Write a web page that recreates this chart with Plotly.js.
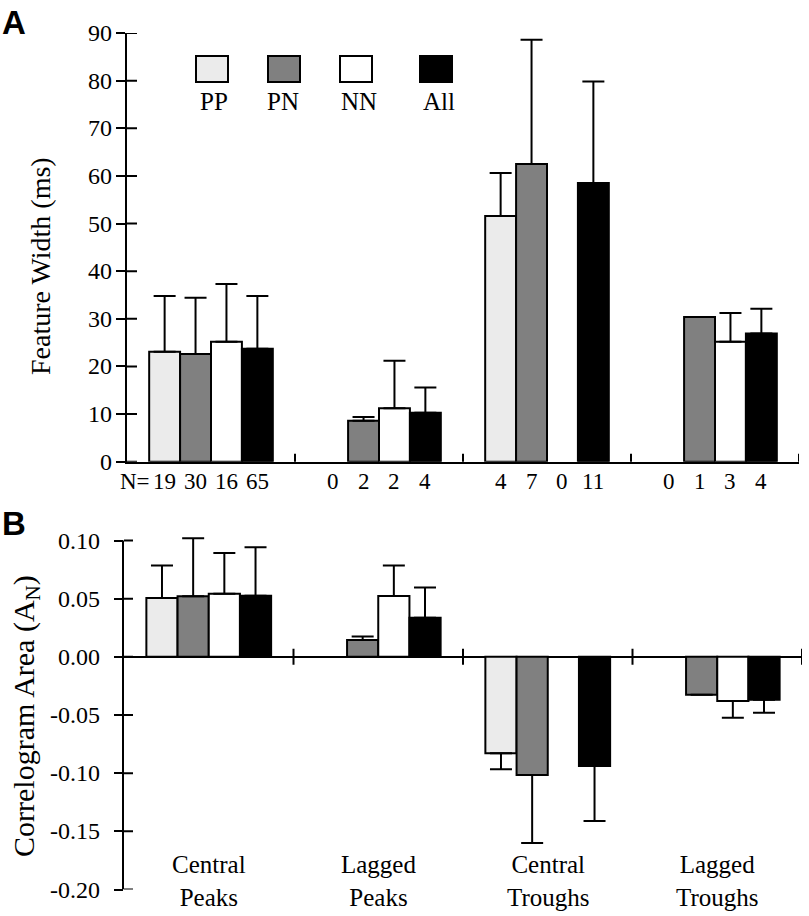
<!DOCTYPE html>
<html>
<head>
<meta charset="utf-8">
<script src="https://cdn.plot.ly/plotly-3.0.1.min.js"></script>
<style>html,body{margin:0;padding:0;background:#fff;}#chart{width:809px;height:916px;}</style>
</head>
<body>
<div id="chart"></div>
<script>
// ---------------- data ----------------
const categories = ["Central Peaks", "Lagged Peaks", "Central Troughs", "Lagged Troughs"];
const seriesNames = ["PP", "PN", "NN", "All"];

// Panel A: feature width (ms), mean and upper SD
const widthPP  = [23.1, null, 51.6, null];
const widthPN  = [22.6, 8.6, 62.5, 30.4];
const widthNN  = [25.2, 11.2, null, 25.2];
const widthAll = [23.7, 10.3, 58.5, 26.9];
const widthErrPP  = [11.7, null, 9.0, null];
const widthErrPN  = [11.8, 0.8, 26.1, 0];
const widthErrNN  = [12.1, 10.0, null, 6.0];
const widthErrAll = [11.1, 5.3, 21.3, 5.2];

// sample sizes
const nPP  = [19, 0, 4, 0];
const nPN  = [30, 2, 7, 1];
const nNN  = [16, 2, 0, 3];
const nAll = [65, 4, 11, 4];

// Panel B: correlogram area (A_N)
const areaPP  = [0.0505, null, -0.0829, null];
const areaPN  = [0.052, 0.0144, -0.1015, -0.0325];
const areaNN  = [0.0543, 0.0522, null, -0.038];
const areaAll = [0.0526, 0.0337, -0.0938, -0.0368];
const areaErrPP  = [0.028, null, 0.0137, null];
const areaErrPN  = [0.050, 0.003, 0.0585, 0];
const areaErrNN  = [0.035, 0.0264, null, 0.0143];
const areaErrAll = [0.0415, 0.026, 0.0473, 0.0112];

const tickValsA = [0, 10, 20, 30, 40, 50, 60, 70, 80, 90];
const tickTextA = ["0", "10", "20", "30", "40", "50", "60", "70", "80", "90"];
const tickValsB = [0.10, 0.05, 0.00, -0.05, -0.10, -0.15, -0.20];
const tickTextB = ["0.10", "0.05", "0.00", "-0.05", "-0.10", "-0.15", "-0.20"];

// ---------------- style ----------------
const colors = ["#ebebeb", "#808080", "#ffffff", "#000000"];
const SERIF = "Liberation Serif";
const SANS = "Liberation Sans";
const W = 809, H = 916;
const px = x => x / W;
const py = y => 1 - y / H;
const BARGAP = 0.264;

const widths = [widthPP, widthPN, widthNN, widthAll];
const widthErrs = [widthErrPP, widthErrPN, widthErrNN, widthErrAll];
const areas = [areaPP, areaPN, areaNN, areaAll];
const areaErrs = [areaErrPP, areaErrPN, areaErrNN, areaErrAll];
const ns = [nPP, nPN, nNN, nAll];

function errParts(vals, errs) {
  const plus = vals.map((v, i) => (v === null ? null : (v >= 0 ? errs[i] : 0)));
  const minus = vals.map((v, i) => (v === null ? null : (v < 0 ? errs[i] : 0)));
  return {plus, minus};
}

const traces = [];
seriesNames.forEach((name, s) => {
  const eA = errParts(widths[s], widthErrs[s]);
  traces.push({
    type: "bar", name: name, x: categories, y: widths[s],
    xaxis: "x", yaxis: "y", showlegend: false, cliponaxis: false,
    marker: {color: colors[s], line: {color: "#000", width: 2}},
    error_y: {type: "data", symmetric: false, array: eA.plus, arrayminus: eA.minus,
              color: "#000", thickness: 2, width: 11}
  });
});
seriesNames.forEach((name, s) => {
  const eB = errParts(areas[s], areaErrs[s]);
  traces.push({
    type: "bar", name: name, x: categories, y: areas[s],
    xaxis: "x2", yaxis: "y2", showlegend: false, cliponaxis: false,
    marker: {color: colors[s], line: {color: "#000", width: 2}},
    error_y: {type: "data", symmetric: false, array: eB.plus, arrayminus: eB.minus,
              color: "#000", thickness: 2, width: 11}
  });
});

const bw = (1 - BARGAP) / seriesNames.length;
const offsets = seriesNames.map((_, s) => (s - (seriesNames.length - 1) / 2) * bw);

const annotations = [];
const shapes = [];
// y tick labels (serif) and inner half of the crossing ticks, on the axes' own scales
tickValsA.forEach((v, i) => {
  annotations.push({xref: "paper", yref: "y", x: px(114), y: v, text: tickTextA[i],
    showarrow: false, xanchor: "right", yanchor: "middle",
    font: {family: SERIF, size: 24, color: "#000"}});
  shapes.push({type: "line", xref: "x", yref: "y", xsizemode: "pixel", xanchor: -0.5,
    x0: 0, x1: 10, y0: v, y1: v, line: {color: "#000", width: 2}});
});
tickValsB.forEach((v, i) => {
  annotations.push({xref: "paper", yref: "y2", x: px(102), y: v, text: tickTextB[i],
    showarrow: false, xanchor: "right", yanchor: "middle",
    font: {family: SERIF, size: 24, color: "#000"}});
  shapes.push({type: "line", xref: "x2", yref: "y2", xsizemode: "pixel", xanchor: -0.5,
    x0: 0, x1: 9, y0: v, y1: v, line: {color: "#000", width: 2}});
});
// panel B axis line, ending at the top tick (range leaves room for the tallest error cap)
shapes.push({type: "line", xref: "paper", yref: "y2",
  x0: px(123), x1: px(123), y0: tickValsB[tickValsB.length - 1], y1: tickValsB[0],
  line: {color: "#000", width: 2}});
// N labels
categories.forEach((c, i) => {
  seriesNames.forEach((_, s) => {
    annotations.push({xref: "x", yref: "paper", x: i + offsets[s], y: py(482),
      text: String(ns[s][i]), showarrow: false, xanchor: "center", yanchor: "middle",
      font: {family: SERIF, size: 23, color: "#000"}});
  });
});
annotations.push({xref: "x", yref: "paper", x: offsets[0], y: py(482), xshift: -13,
  text: "N=", showarrow: false, xanchor: "right", yanchor: "middle",
  font: {family: SERIF, size: 23, color: "#000"}});
// category labels in panel B (wrapped on two lines)
categories.forEach((c, i) => {
  annotations.push({xref: "x2", yref: "paper", x: i, y: py(881), text: c.split(" ").join("<br>"),
    showarrow: false, xanchor: "center", yanchor: "middle",
    font: {family: SERIF, size: 25, color: "#000"}});
});
// axis titles
annotations.push({xref: "paper", yref: "paper", x: px(41), y: py(266), text: "Feature Width (ms)",
  textangle: -90, showarrow: false, xanchor: "center", yanchor: "middle",
  font: {family: SERIF, size: 28, color: "#000"}});
annotations.push({xref: "paper", yref: "paper", x: px(26), y: py(716), text: "Correlogram Area (A<sub>N</sub>)",
  textangle: -90, showarrow: false, xanchor: "center", yanchor: "middle",
  font: {family: SERIF, size: 30, color: "#000"}});
// panel letters
annotations.push({xref: "paper", yref: "paper", x: px(0), y: py(22), text: "<b>A</b>",
  showarrow: false, xanchor: "left", yanchor: "middle", font: {family: SANS, size: 33, color: "#000"}});
annotations.push({xref: "paper", yref: "paper", x: px(0), y: py(523), text: "<b>B</b>",
  showarrow: false, xanchor: "left", yanchor: "middle", font: {family: SANS, size: 33, color: "#000"}});

// legend (drawn manually: swatch above label)
const legendX = [212, 284, 356, 436];
const legendLabelX = [214, 283, 359, 439];
seriesNames.forEach((name, s) => {
  shapes.push({type: "rect", xref: "paper", yref: "paper",
    x0: px(legendX[s] - 16), x1: px(legendX[s] + 16), y0: py(56), y1: py(82),
    fillcolor: colors[s], line: {color: "#000", width: 2}});
  annotations.push({xref: "paper", yref: "paper", x: px(legendLabelX[s]), y: py(101), text: name,
    showarrow: false, xanchor: "center", yanchor: "middle",
    font: {family: SERIF, size: 25, color: "#000"}});
});
// boundary ticks crossing x axes
[0.5, 1.5, 2.5, 3.5].forEach(b => {
  shapes.push({type: "line", xref: "x", yref: "y", x0: b, x1: b, ysizemode: "pixel", yanchor: 0,
    y0: -9, y1: 8, line: {color: "#000", width: 2}});
  shapes.push({type: "line", xref: "x2", yref: "y2", x0: b, x1: b, ysizemode: "pixel", yanchor: 0,
    y0: -8, y1: 8, line: {color: "#000", width: 2}});
});

const pxPerUnitB = (889.5 - 540.5) / 0.3;
const topB = 0.106;
const domAx = [px(127), px(799)];
const domAy = [py(461.7), py(33)];
const domBx = [px(124), px(802)];
const domBy = [py(889.5), py(540.5 - (topB - 0.1) * pxPerUnitB)];

const layout = {
  width: W, height: H,
  margin: {l: 0, r: 0, t: 0, b: 0},
  paper_bgcolor: "#fff", plot_bgcolor: "rgba(0,0,0,0)",
  barmode: "group", bargap: BARGAP, bargroupgap: 0,
  showlegend: false,
  font: {family: SERIF, size: 24, color: "#000"},
  xaxis: {domain: domAx, anchor: "y", type: "category", range: [-0.5, 3.5],
    showline: true, linecolor: "#000", linewidth: 2, ticks: "", showticklabels: false,
    showgrid: false, zeroline: false, fixedrange: true},
  yaxis: {domain: domAy, anchor: "x", range: [0, 90], tickmode: "array", tickvals: tickValsA,
    ticks: "outside", ticklen: 9, tickwidth: 2, tickcolor: "#000", showticklabels: false,
    showline: true, linecolor: "#000", linewidth: 2, showgrid: false, zeroline: false, fixedrange: true},
  xaxis2: {domain: domBx, anchor: "y2", type: "category", range: [-0.5, 3.5],
    showline: false, ticks: "", showticklabels: false, showgrid: false, zeroline: false, fixedrange: true},
  yaxis2: {domain: domBy, anchor: "x2", range: [-0.2, topB], tickmode: "array", tickvals: tickValsB,
    ticks: "outside", ticklen: 9, tickwidth: 2, tickcolor: "#000", showticklabels: false,
    showline: false, showgrid: false,
    zeroline: true, zerolinecolor: "#000", zerolinewidth: 2, fixedrange: true},
  shapes: shapes,
  annotations: annotations
};

Plotly.newPlot("chart", traces, layout, {staticPlot: true, displayModeBar: false});
</script>
</body>
</html>
